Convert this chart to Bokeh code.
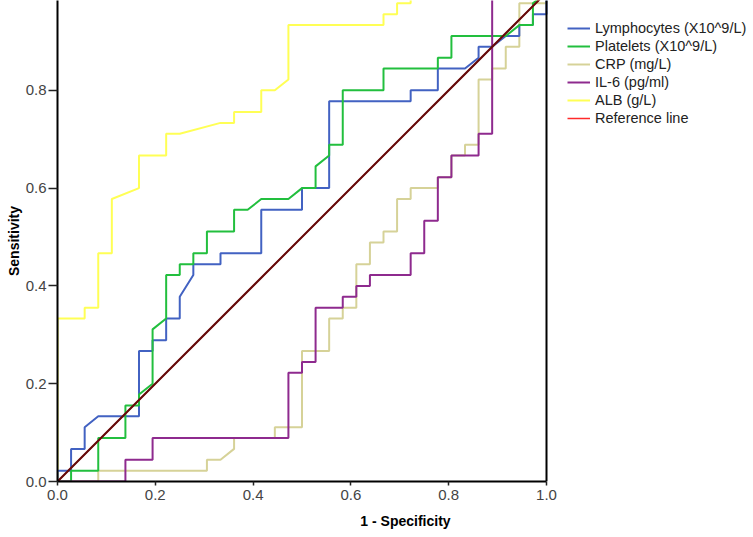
from bokeh.plotting import figure
from bokeh.models import (Range1d, FixedTicker, Legend, LegendItem, Span,
                          PrintfTickFormatter)
from bokeh.embed import file_html
from bokeh.resources import INLINE

N_NEG = 36   # negatives -> steps of 1 - Specificity
N_POS = 45   # positives -> steps of Sensitivity

# ROC vertices as (false-positive count, true-positive count)
lymph_fp = [0, 0, 1, 1, 2, 2, 3, 6, 6, 7, 7, 8, 8, 9, 9, 10, 10, 12, 12, 15, 15, 18, 18,
            20, 20, 26, 26, 28, 28, 30, 31, 31, 32, 33, 34, 34, 35, 35, 36, 36]
lymph_tp = [0, 1, 1, 3, 3, 5, 6, 6, 12, 12, 13, 13, 15, 15, 17, 19, 20, 20, 21, 21, 25, 25, 27,
            27, 35, 35, 36, 36, 38, 38, 39, 40, 40, 41, 41, 42, 42, 43, 43, 45]

plt_fp = [0, 1, 1, 3, 3, 5, 5, 6, 6, 7, 7, 8, 8, 9, 9, 10, 10, 11, 11, 13, 13, 14, 15, 17, 18,
          19, 19, 20, 20, 21, 21, 24, 24, 28, 28, 29, 29, 33, 34, 35, 35, 36]
plt_tp = [0, 0, 1, 1, 4, 4, 7, 7, 8, 9, 14, 15, 19, 19, 20, 20, 21, 21, 23, 23, 25, 25, 26, 26, 27,
          27, 29, 30, 31, 31, 36, 36, 38, 38, 39, 39, 41, 41, 42, 42, 44, 45]

crp_fp = [0, 3, 3, 11, 11, 12, 13, 13, 16, 16, 18, 18, 20, 20, 21, 21, 22, 22, 23, 23, 24, 24,
          25, 25, 26, 26, 28, 28, 29, 29, 30, 30, 31, 31, 32, 32, 33, 33, 34, 34, 36, 36]
crp_tp = [0, 0, 1, 1, 2, 2, 3, 4, 4, 5, 5, 12, 12, 15, 15, 16, 16, 20, 20, 22, 22, 23,
          23, 26, 26, 27, 27, 28, 28, 30, 30, 31, 31, 37, 37, 38, 38, 40, 40, 44, 44, 45]

il6_fp = [0, 5, 5, 7, 7, 17, 17, 18, 18, 19, 19, 21, 21, 22, 22, 23, 23, 26, 26, 27, 27, 28,
          28, 29, 29, 31, 31, 32, 32, 36]
il6_tp = [0, 0, 2, 2, 4, 4, 10, 10, 11, 11, 16, 16, 17, 17, 18, 18, 19, 19, 21, 21, 24, 24,
          28, 28, 30, 30, 32, 32, 45, 45]

alb_fp = [0, 0, 2, 2, 3, 3, 4, 4, 6, 6, 8, 8, 9, 12, 13, 13, 15, 15, 16, 17, 17, 24, 24, 25,
          25, 26, 26, 36]
alb_tp = [0, 15, 15, 16, 16, 21, 21, 26, 27, 30, 30, 32, 32, 33, 33, 34, 34, 36, 36, 37, 42, 42,
          43, 43, 44, 44, 45, 45]

ref_x = [0.0, 1.0]
ref_y = [0.0, 1.0]

x_ticks = [0.0, 0.2, 0.4, 0.6, 0.8, 1.0]
y_ticks = [0.0, 0.2, 0.4, 0.6, 0.8]

labels = ["Lymphocytes (X10^9/L)", "Platelets (X10^9/L)", "CRP (mg/L)",
          "IL-6 (pg/ml)", "ALB (g/L)", "Reference line"]
colors = ["#4262c2", "#22bf3e", "#d6d298", "#8e2a8e", "#ffff55", "#ff2a2a"]
ref_draw_color = "#620c0c"

W, H = 753, 537
LEFT, BOTTOM = 57, 56
PX_PER_UNIT = 489.0
FRAME_W = W - LEFT          # plot area continues under the legend (no axis there)
FRAME_H = H - BOTTOM

p = figure(width=W, height=H,
           output_backend="svg", toolbar_location=None,
           x_range=Range1d(0, FRAME_W / PX_PER_UNIT),
           y_range=Range1d(0, FRAME_H / PX_PER_UNIT),
           min_border_left=LEFT, min_border_right=0,
           min_border_top=0, min_border_bottom=BOTTOM)
p.grid.visible = False
p.outline_line_color = None
p.background_fill_color = "white"
p.border_fill_color = "white"


def scale(vals, n):
    return [v / n for v in vals]


r_crp = p.line(scale(crp_fp, N_NEG), scale(crp_tp, N_POS), color=colors[2], line_width=2)
r_alb = p.line(scale(alb_fp, N_NEG), scale(alb_tp, N_POS), color=colors[4], line_width=2)
r_lym = p.line(scale(lymph_fp, N_NEG), scale(lymph_tp, N_POS), color=colors[0], line_width=2)
r_plt = p.line(scale(plt_fp, N_NEG), scale(plt_tp, N_POS), color=colors[1], line_width=2)
r_il6 = p.line(scale(il6_fp, N_NEG), scale(il6_tp, N_POS), color=colors[3], line_width=2)
r_ref_leg = p.line(ref_x, ref_y, color=colors[5], line_width=1.5)
p.line(ref_x, ref_y, color=ref_draw_color, line_width=2)

# right border of the plot area at 1 - Specificity = 1
p.add_layout(Span(location=x_ticks[-1], dimension="height", line_color="black", line_width=2))

font = "Liberation Sans"
for ax in (p.xaxis[0], p.yaxis[0]):
    ax.axis_line_width = 2
    ax.axis_line_color = "black"
    ax.major_tick_line_color = "#222222"
    ax.major_tick_line_width = 1.5
    ax.major_tick_in = 0
    ax.minor_tick_line_color = None
    ax.major_label_text_font = font
    ax.major_label_text_font_size = "15px"
    ax.major_label_text_color = "#444444"
    ax.axis_label_text_font = font
    ax.axis_label_text_font_size = "14px"
    ax.axis_label_text_font_style = "bold"
    ax.axis_label_text_color = "black"
    ax.formatter = PrintfTickFormatter(format="%.1f")

p.xaxis[0].ticker = FixedTicker(ticks=x_ticks)
p.xaxis[0].bounds = (x_ticks[0], x_ticks[-1])
p.yaxis[0].ticker = FixedTicker(ticks=y_ticks)
p.xaxis[0].axis_label = "1 - Specificity"
p.yaxis[0].axis_label = "Sensitivity"
p.xaxis[0].major_tick_out = 4
p.xaxis[0].major_label_standoff = 4
p.xaxis[0].axis_label_standoff = 10
p.yaxis[0].major_tick_out = 9
p.yaxis[0].major_label_standoff = 2
p.yaxis[0].axis_label_standoff = 1

legend = Legend(
    items=[LegendItem(label=labels[0], renderers=[r_lym]),
           LegendItem(label=labels[1], renderers=[r_plt]),
           LegendItem(label=labels[2], renderers=[r_crp]),
           LegendItem(label=labels[3], renderers=[r_il6]),
           LegendItem(label=labels[4], renderers=[r_alb]),
           LegendItem(label=labels[5], renderers=[r_ref_leg])],
    location=(int(PX_PER_UNIT) + 21, FRAME_H - 19 - 108),
    glyph_width=23, glyph_height=18, label_height=18, label_standoff=5,
    spacing=0, padding=0, margin=0,
    border_line_color=None, background_fill_alpha=0,
    label_text_font=font, label_text_font_size="14.5px", label_text_color="#222222")
p.add_layout(legend)

open("out.html", "w").write(file_html(p, INLINE))
